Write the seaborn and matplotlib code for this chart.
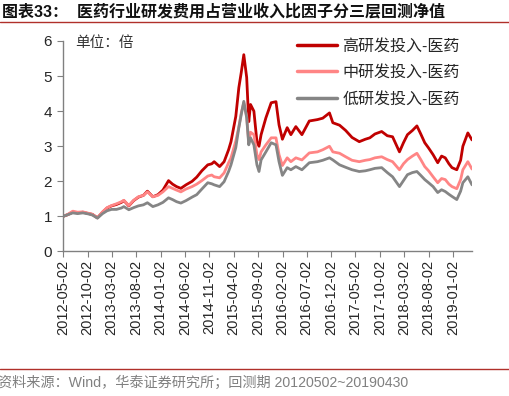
import pandas as pd
import matplotlib
matplotlib.use('Agg')
import matplotlib.pyplot as plt
import matplotlib.dates as mdates
import seaborn as sns

# net value readings (approx.) for the three R&D intensity layers
dates = [
    '2012-05-02', '2012-06-01', '2012-07-02', '2012-08-01', '2012-09-03', '2012-10-08',
    '2012-11-01', '2012-12-03', '2013-01-04', '2013-02-01', '2013-03-01', '2013-04-01',
    '2013-05-02', '2013-05-17', '2013-06-17', '2013-07-17', '2013-08-16', '2013-09-16',
    '2013-10-11', '2013-11-14', '2013-12-16', '2014-01-16', '2014-02-20', '2014-03-17',
    '2014-04-11', '2014-05-08', '2014-06-09', '2014-07-17', '2014-08-15', '2014-09-16',
    '2014-10-23', '2014-11-17', '2014-12-02', '2015-01-05', '2015-02-02', '2015-03-02',
    '2015-03-17', '2015-04-16', '2015-05-05', '2015-05-20', '2015-06-05', '2015-06-23',
    '2015-07-06', '2015-07-17', '2015-08-07', '2015-08-26', '2015-09-08', '2015-09-21',
    '2015-10-21', '2015-11-23', '2015-12-23', '2016-01-11', '2016-02-01', '2016-03-02',
    '2016-03-25', '2016-04-25', '2016-06-02', '2016-07-18', '2016-09-07', '2016-10-10',
    '2016-11-21', '2016-12-12', '2017-01-23', '2017-03-02', '2017-04-11', '2017-05-26',
    '2017-07-03', '2017-07-31', '2017-09-01', '2017-10-13', '2017-11-17', '2017-12-20',
    '2018-02-01', '2018-02-26', '2018-03-23', '2018-04-23', '2018-05-21', '2018-06-14',
    '2018-07-09', '2018-08-02', '2018-08-30', '2018-09-28', '2018-10-22', '2018-11-14',
    '2018-12-07', '2018-12-26', '2019-01-25', '2019-02-18', '2019-03-04', '2019-04-04',
    '2019-04-30',
]
high_rd = [
    1.00, 1.05, 1.12, 1.10, 1.12, 1.08, 1.06, 0.96, 1.12, 1.24, 1.30, 1.34,
    1.40, 1.45, 1.30, 1.45, 1.55, 1.60, 1.72, 1.56, 1.62, 1.75, 2.02, 1.92,
    1.85, 1.80, 1.90, 2.00, 2.12, 2.30, 2.47, 2.50, 2.56, 2.42, 2.56, 2.90,
    3.13, 3.85, 4.67, 5.10, 5.61, 4.96, 3.70, 4.19, 4.00, 3.13, 3.00, 3.33,
    3.81, 4.24, 4.27, 3.61, 3.20, 3.53, 3.33, 3.56, 3.33, 3.72, 3.76, 3.80,
    3.95, 3.67, 3.60, 3.45, 3.25, 3.13, 3.20, 3.24, 3.35, 3.42, 3.30, 3.27,
    2.84, 3.10, 3.33, 3.45, 3.58, 3.35, 3.10, 2.95, 2.76, 2.53, 2.72, 2.67,
    2.50, 2.39, 2.33, 2.60, 3.00, 3.38, 3.18,
]
mid_rd = [
    1.00, 1.06, 1.15, 1.12, 1.13, 1.09, 1.06, 0.96, 1.13, 1.25, 1.31, 1.36,
    1.42, 1.46, 1.31, 1.46, 1.56, 1.60, 1.70, 1.56, 1.60, 1.70, 1.85, 1.80,
    1.75, 1.70, 1.78, 1.85, 1.92, 2.02, 2.15, 2.18, 2.13, 2.10, 2.24, 2.53,
    2.67, 3.15, 3.55, 3.95, 4.24, 3.85, 3.10, 3.40, 3.33, 2.76, 2.62, 2.84,
    3.04, 3.24, 3.24, 2.76, 2.45, 2.67, 2.56, 2.67, 2.61, 2.81, 2.84, 2.90,
    3.00, 2.84, 2.80, 2.70, 2.60, 2.56, 2.60, 2.62, 2.67, 2.70, 2.62, 2.56,
    2.33, 2.50, 2.62, 2.72, 2.80, 2.62, 2.42, 2.30, 2.13, 1.96, 2.08, 2.05,
    1.92, 1.85, 1.79, 2.05, 2.33, 2.56, 2.35,
]
low_rd = [
    1.00, 1.05, 1.10, 1.08, 1.10, 1.07, 1.04, 0.95, 1.08, 1.16, 1.20, 1.20,
    1.24, 1.28, 1.19, 1.25, 1.30, 1.33, 1.39, 1.28, 1.33, 1.40, 1.53, 1.48,
    1.42, 1.38, 1.45, 1.55, 1.62, 1.78, 1.96, 1.93, 1.90, 1.85, 1.99, 2.28,
    2.47, 2.96, 3.53, 3.90, 4.28, 3.81, 3.04, 3.24, 3.04, 2.47, 2.28, 2.61,
    2.84, 3.10, 3.04, 2.56, 2.17, 2.39, 2.33, 2.42, 2.33, 2.53, 2.56, 2.60,
    2.67, 2.61, 2.47, 2.40, 2.33, 2.28, 2.30, 2.33, 2.37, 2.39, 2.25, 2.13,
    1.85, 2.02, 2.19, 2.25, 2.28, 2.17, 2.05, 1.96, 1.85, 1.68, 1.76, 1.71,
    1.63, 1.57, 1.48, 1.72, 1.96, 2.13, 1.90,
]
series_names = ['高研发投入-医药', '中研发投入-医药', '低研发投入-医药']
series_colors = ['#C00000', '#FF8585', '#858585']
tick_dates = ['2012-05-02', '2012-10-02', '2013-03-02', '2013-08-02', '2014-01-02',
              '2014-06-02', '2014-11-02', '2015-04-02', '2015-09-02', '2016-02-02',
              '2016-07-02', '2016-12-02', '2017-05-02', '2017-10-02', '2018-03-02',
              '2018-08-02', '2019-01-02']

sns.set_style('white')
plt.rcParams['font.family'] = ['Liberation Sans', 'Noto Sans CJK SC']

df = pd.DataFrame({
    'date': pd.to_datetime(dates * 3),
    'value': high_rd + mid_rd + low_rd,
    'series': [series_names[0]] * len(dates) + [series_names[1]] * len(dates)
              + [series_names[2]] * len(dates),
})

fig = plt.figure(figsize=(5.1, 3.96), dpi=100)
ax = fig.add_axes([63 / 510, 1 - 251.5 / 396, (472 - 63) / 510, (251.5 - 41) / 396])

sns.lineplot(data=df, x='date', y='value', hue='series', hue_order=series_names,
             palette=series_colors, linewidth=2.0, ax=ax, legend=False)

ax.set_xlim(pd.Timestamp(dates[0]), pd.Timestamp(dates[-1]))
ax.set_ylim(0, 6)
ax.set_yticks(range(7))
ax.set_xticks(pd.to_datetime(tick_dates))
ax.xaxis.set_major_formatter(mdates.DateFormatter('%Y-%m-%d'))
ax.tick_params(axis='x', rotation=90, labelsize=10.5, length=4, color='#808080',
               direction='out', bottom=True, pad=2)
ax.tick_params(axis='y', labelsize=11, length=4, color='#808080', direction='out',
               left=True, pad=4)
ax.set_xlabel('')
ax.set_ylabel('')
for side in ['top', 'right']:
    ax.spines[side].set_visible(False)
for side in ['left', 'bottom']:
    ax.spines[side].set_color('#808080')
    ax.spines[side].set_linewidth(1.0)

handles = [plt.Line2D([], [], color=c, linewidth=2.5) for c in series_colors]
ax.legend(handles, series_names, loc='upper right', bbox_to_anchor=(1.005, 1.08),
          frameon=False, fontsize=11.5, handlelength=2.5, handletextpad=0.35,
          labelspacing=0.72)

ax.text(0.03, 0.99, '单位：倍', transform=ax.transAxes, fontsize=10.5, va='center',
        ha='left', color='#333333')

fig.text(0.004, 1 - 12 / 396, '图表33：  医药行业研发费用占营业收入比因子分三层回测净值',
         fontsize=11.5, fontweight='bold', va='center', ha='left', color='#111111')
fig.add_artist(plt.Line2D([0, 1], [1 - 22 / 396, 1 - 22 / 396], color='#B0302A',
                          linewidth=1.0, transform=fig.transFigure))
fig.add_artist(plt.Line2D([0, 1], [1 - 369 / 396, 1 - 369 / 396], color='#B0302A',
                          linewidth=1.0, transform=fig.transFigure))
fig.text(-0.003, 1 - 383 / 396, '资料来源：Wind，华泰证券研究所；回测期 20120502~20190430',
         fontsize=10.2, va='center', ha='left', color='#808080')

fig.savefig('out.png', dpi=100)
